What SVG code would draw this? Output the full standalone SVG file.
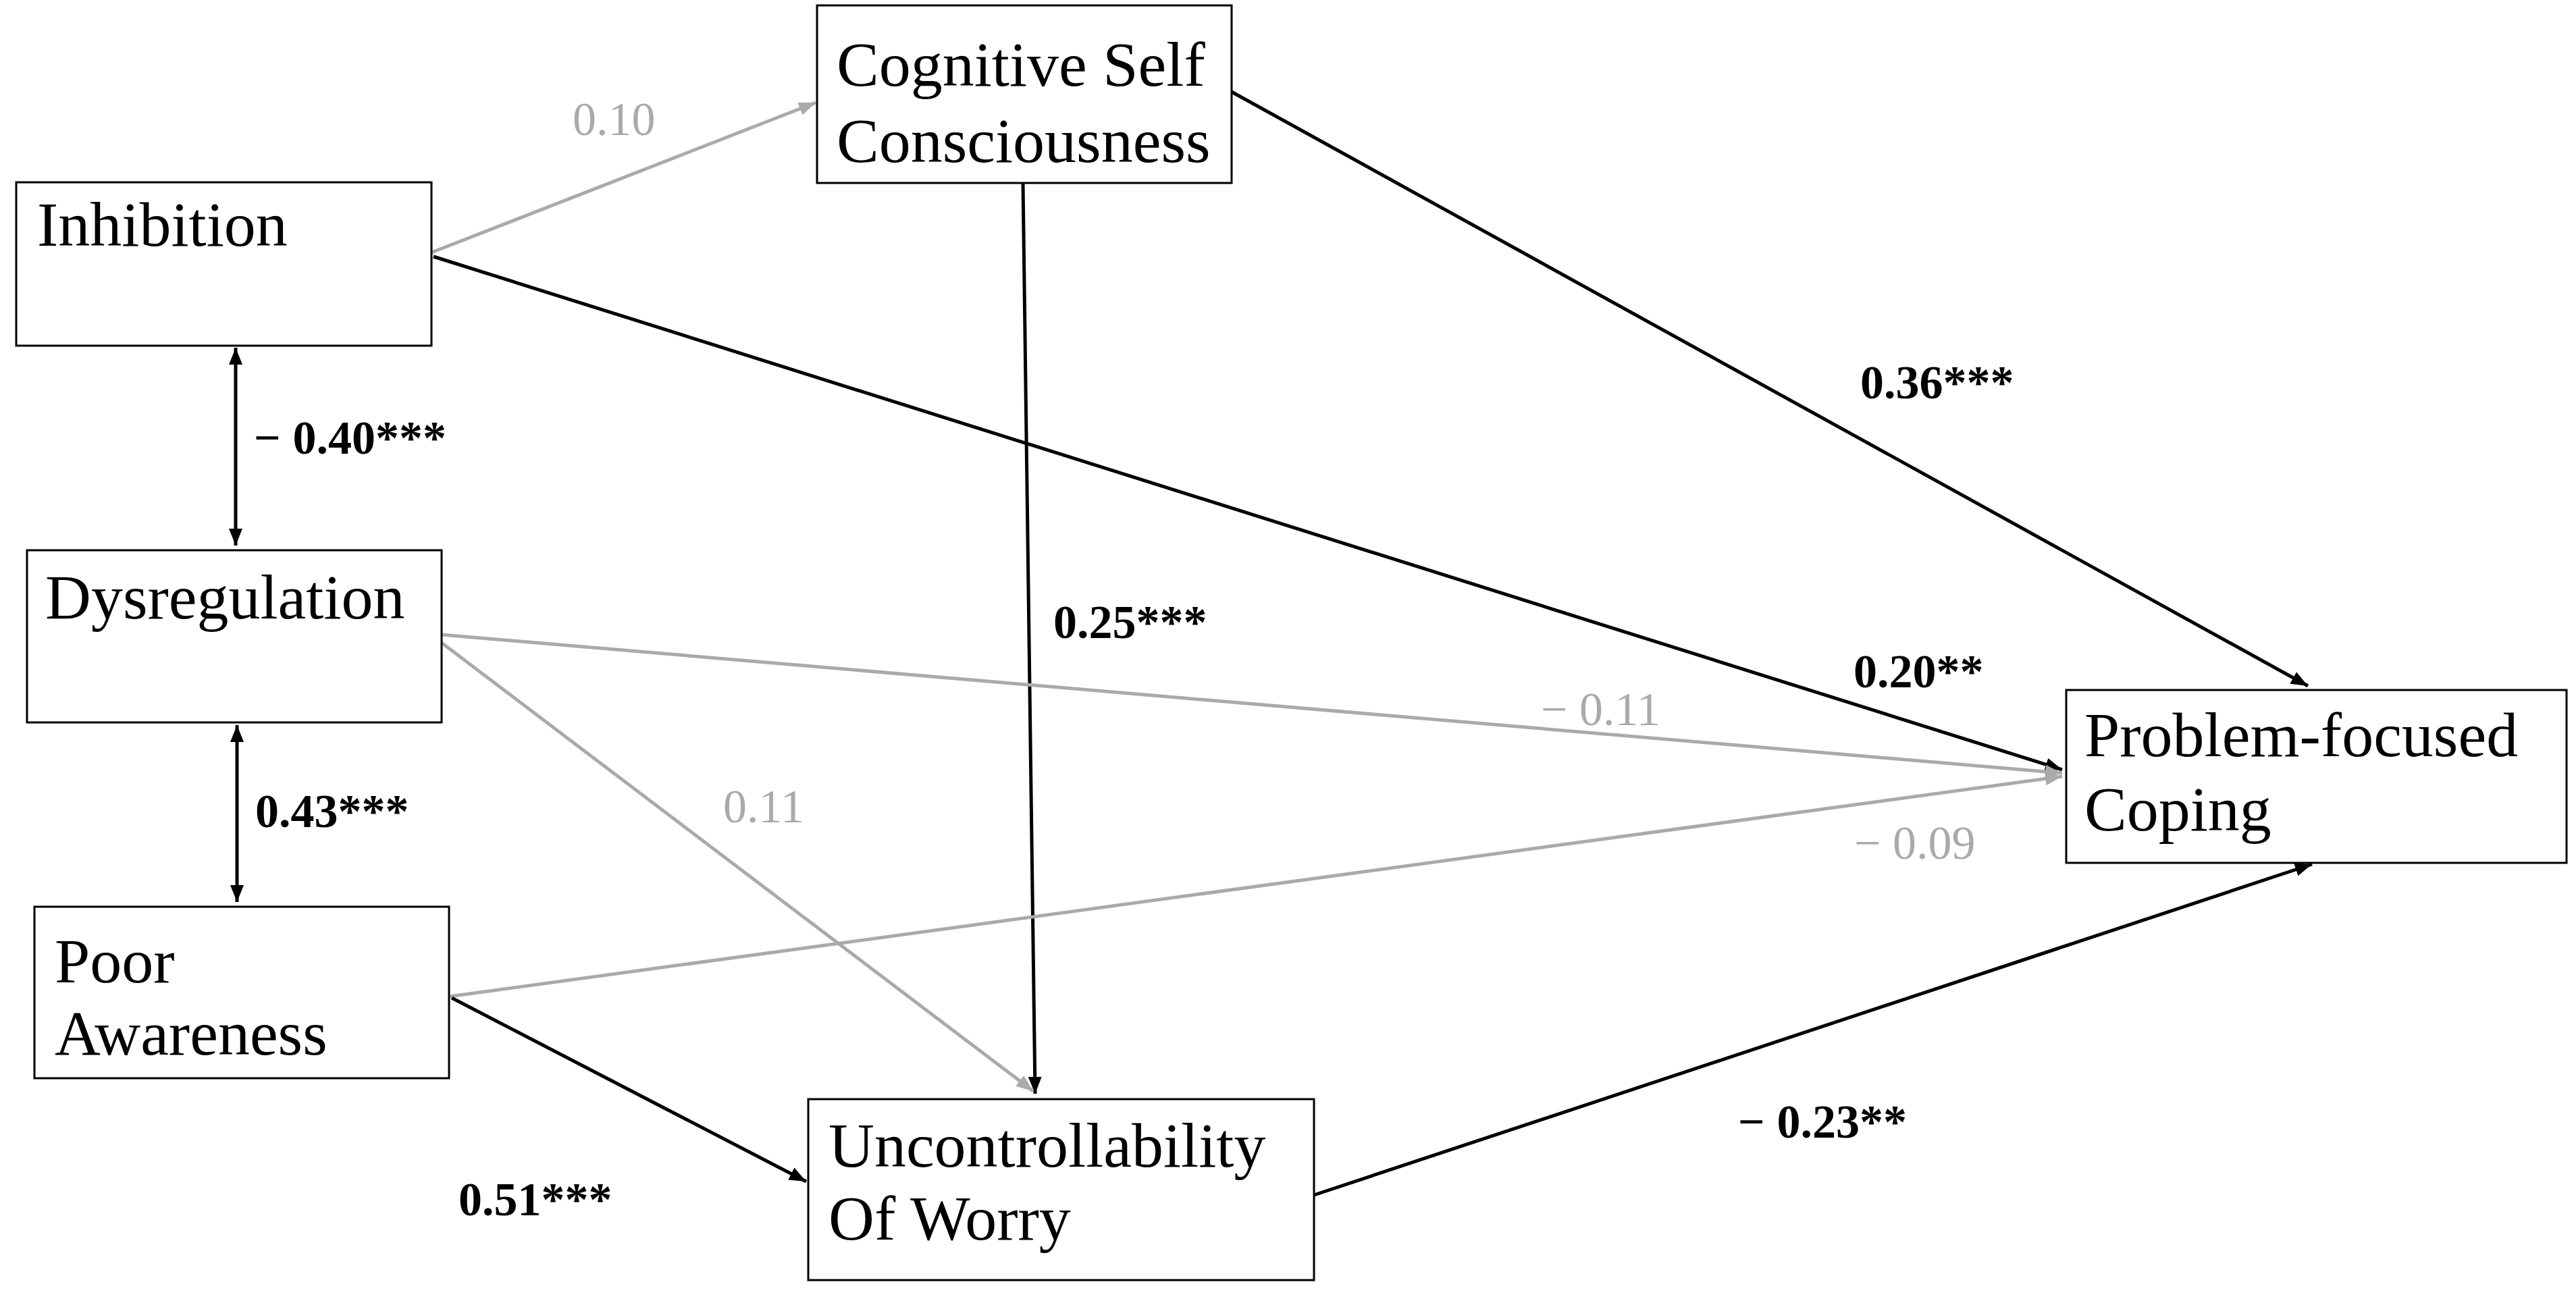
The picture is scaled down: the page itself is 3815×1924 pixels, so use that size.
<svg xmlns="http://www.w3.org/2000/svg" width="3815" height="1924" viewBox="0 0 3815 1924">
<style>
.box{fill:#fff;stroke:#000;stroke-width:3}
.t{font-family:"Liberation Serif",serif;font-size:94px;fill:#000}
.b{font-family:"Liberation Serif",serif;font-size:70px;font-weight:bold;fill:#000}
.g{font-family:"Liberation Serif",serif;font-size:70px;fill:#aaa}
.k{stroke:#000;stroke-width:5;fill:none}
.s{stroke:#aaa;stroke-width:5;fill:none}
</style>
<defs>
<marker id="ak" viewBox="0 0 10 10" refX="10" refY="5" markerWidth="5" markerHeight="5" orient="auto-start-reverse"><path d="M0,1 L10,5 L0,9 z" fill="#000"/></marker>
<marker id="ag" viewBox="0 0 10 10" refX="10" refY="5" markerWidth="5" markerHeight="5" orient="auto-start-reverse"><path d="M0,1 L10,5 L0,9 z" fill="#aaa"/></marker>
</defs>
<rect width="3815" height="1924" fill="#fff"/>
<g id="connectors">
<line class="s" x1="639" y1="374" x2="1208" y2="152" marker-end="url(#ag)"/>
<line class="k" x1="642" y1="380" x2="3054" y2="1140" marker-end="url(#ak)"/>
<line class="k" x1="1824" y1="136" x2="3418" y2="1016" marker-end="url(#ak)"/>
<line class="k" x1="1515" y1="271" x2="1533" y2="1620" marker-end="url(#ak)"/>
<line class="s" x1="654" y1="940" x2="3054" y2="1145" marker-end="url(#ag)"/>
<line class="s" x1="654" y1="952" x2="1530" y2="1616" marker-end="url(#ag)"/>
<line class="s" x1="665" y1="1476" x2="3054" y2="1150" marker-end="url(#ag)"/>
<line class="k" x1="669" y1="1478" x2="1194" y2="1750" marker-end="url(#ak)"/>
<line class="k" x1="1946" y1="1770" x2="3424" y2="1280" marker-end="url(#ak)"/>
<line class="k" x1="349" y1="515" x2="349" y2="808" marker-start="url(#ak)" marker-end="url(#ak)"/>
<line class="k" x1="351" y1="1074" x2="351" y2="1336" marker-start="url(#ak)" marker-end="url(#ak)"/>
</g>
<g id="labels">
<text class="g" x="848" y="200">0.10</text>
<text class="b" x="376" y="672">− 0.40***</text>
<text class="b" x="378" y="1225">0.43***</text>
<text class="b" x="1560" y="945">0.25***</text>
<text class="g" x="1071" y="1218">0.11</text>
<text class="b" x="679" y="1800">0.51***</text>
<text class="b" x="2755" y="590">0.36***</text>
<text class="b" x="2745" y="1018">0.20**</text>
<text class="g" x="2282" y="1074">− 0.11</text>
<text class="g" x="2746" y="1272">− 0.09</text>
<text class="b" x="2574" y="1685">− 0.23**</text>
</g>
<g id="inhibition"><rect class="box" x="24" y="270" width="615" height="242"/><text class="t" x="55" y="364">Inhibition</text></g>
<g id="cognitive"><rect class="box" x="1210" y="8" width="614" height="263"/><text class="t" x="1239" y="127">Cognitive Self</text><text class="t" x="1239" y="240">Consciousness</text></g>
<g id="dysregulation"><rect class="box" x="40" y="815" width="614" height="255"/><text class="t" x="67" y="916">Dysregulation</text></g>
<g id="poor"><rect class="box" x="51" y="1343" width="614" height="254"/><text class="t" x="81" y="1455">Poor</text><text class="t" x="81" y="1562">Awareness</text></g>
<g id="uncontrollability"><rect class="box" x="1197" y="1628" width="749" height="268"/><text class="t" x="1227" y="1728">Uncontrollability</text><text class="t" x="1227" y="1836">Of Worry</text></g>
<g id="coping"><rect class="box" x="3060" y="1022" width="741" height="256"/><text class="t" x="3087" y="1120">Problem-focused</text><text class="t" x="3087" y="1230">Coping</text></g>
</svg>
